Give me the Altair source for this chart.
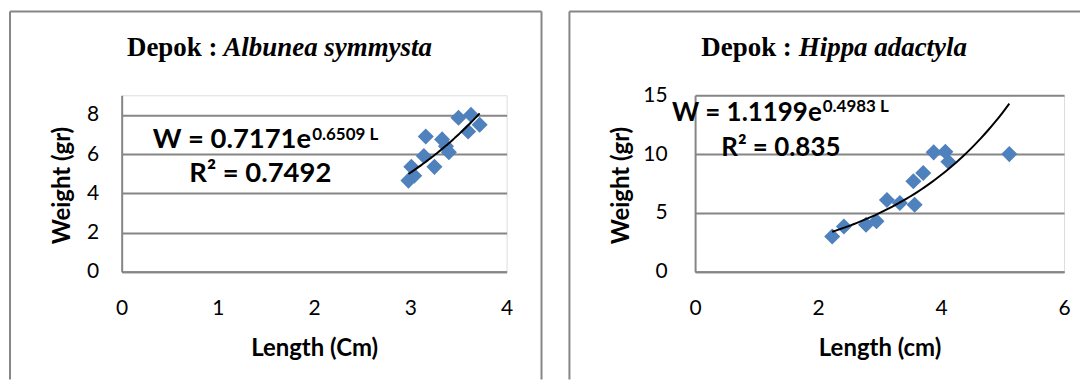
import altair as alt
import pandas as pd

# ---------------- data ----------------
left_length = [2.98, 3.01, 3.04, 3.14, 3.16, 3.25, 3.33, 3.37, 3.40, 3.50, 3.60, 3.63, 3.72]
left_weight = [4.65, 5.35, 4.90, 5.90, 6.90, 5.35, 6.75, 6.40, 6.10, 7.85, 7.15, 8.00, 7.50]

right_length = [2.23, 2.42, 2.78, 2.95, 3.12, 3.33, 3.57, 3.55, 3.71, 3.88, 4.07, 4.12, 5.11]
right_weight = [3.00, 3.85, 4.00, 4.30, 6.10, 5.85, 5.70, 7.70, 8.40, 10.15, 10.20, 9.35, 10.00]

# trendline coefficients (W = a * e^(b L)) as printed on the chart
left_coef = [0.7171, 0.6509]
right_coef = [1.1199, 0.4983]

left_title = ["Depok :", "Albunea symmysta"]
right_title = ["Depok :", "Hippa adactyla"]
left_eq = ["W = 0.7171e", "0.6509 L", "R\u00b2 = 0.7492"]
right_eq = ["W = 1.1199e", "0.4983 L", "R\u00b2 = 0.835"]
left_xtitle = "Length (Cm)"
right_xtitle = "Length (cm)"
y_title = "Weight (gr)"

left_xticks = [0, 1, 2, 3, 4]
left_yticks = [0, 2, 4, 6, 8]
right_xticks = [0, 2, 4, 6]
right_yticks = [0, 5, 10, 15]
left_xdomain = [0, 4]
left_ydomain = [0, 9]
right_xdomain = [0, 6]
right_ydomain = [0, 15]

BLUE = "#4f81bd"
GRAY = "#868686"
SANS = "Lato"
SERIF = "Liberation Serif"

one = pd.DataFrame({"k": [0]})


def txt(text, x, y, align, size, weight="bold", font=SANS, style="normal"):
    return alt.Chart(one).mark_text(
        text=text, align=align, baseline="alphabetic", font=font,
        fontSize=size, fontWeight=weight, fontStyle=style, color="black"
    ).encode(x=alt.value(x), y=alt.value(y))


def rule(x, x2, y, y2):
    return alt.Chart(one).mark_rule(color=GRAY, strokeWidth=2).encode(
        x=alt.value(x), x2=alt.value(x2), y=alt.value(y), y2=alt.value(y2)
    )


def panel(lengths, weights, coef, xdom, ydom, xticks, yticks, xtitle, title,
          eq, width, height, geo):
    df = pd.DataFrame({"L": lengths, "W": weights})
    xenc = alt.X(
        "L:Q",
        scale=alt.Scale(domain=xdom, nice=False, zero=False),
        axis=alt.Axis(
            values=xticks, title=xtitle, grid=False, ticks=False, tickSize=0,
            labelPadding=37, labelBaseline="middle", labelFlush=False,
            labelFont=SANS, labelFontSize=21, labelColor="black",
            titleFont=SANS, titleFontSize=24, titleFontWeight="bold",
            titleColor="black", titleX=width / 2, titleY=84,
            titleBaseline="alphabetic", titleAlign="center",
            domainColor=GRAY, domainWidth=2, format="d",
        ),
    )
    yenc = alt.Y(
        "W:Q",
        scale=alt.Scale(domain=ydom, nice=False, zero=False),
        axis=alt.Axis(
            values=yticks, title=y_title, grid=True, gridColor=GRAY, gridWidth=2,
            ticks=False, tickSize=0, labelPadding=geo["ylabpad"],
            labelFont=SANS, labelFontSize=21, labelColor="black",
            labelBaseline="middle", labelFlush=False,
            titleFont=SANS, titleFontSize=24, titleFontWeight="bold",
            titleColor="black", titleAngle=270, titleX=geo["ytitlex"], titleY=90,
            titleAlign="center", titleBaseline="middle",
            domainColor=GRAY, domainWidth=2, format="d",
        ),
    )
    pts = alt.Chart(df).mark_point(
        shape="diamond", filled=True, size=260, color=BLUE, opacity=1
    ).encode(x=xenc, y=yenc)

    lmin, lmax = min(lengths), max(lengths)
    trend = alt.Chart(alt.sequence(0, 1.001, 0.02, as_="t")).transform_calculate(
        L=f"{lmin} + datum.t * ({lmax} - {lmin})"
    ).transform_calculate(
        W=f"{coef[0]} * exp({coef[1]} * datum.L)"
    ).mark_line(color="black", strokeWidth=2).encode(
        x=alt.X("L:Q"), y=alt.Y("W:Q")
    )

    layers = [
        rule(geo["bl"], geo["bl"], -84, 285),
        rule(geo["bl"], geo["br"], -84, -84),
    ]
    if geo.get("rightside"):
        layers.append(rule(geo["br"], geo["br"], -84, 285))
    layers += [
        pts,
        trend,
        txt(title[0], geo["tx"], -39.5, "right", 27, font=SERIF),
        txt(title[1], geo["tx"] + geo["tgap"], -39.5, "left", 27, font=SERIF,
            style="italic"),
        txt(eq[0], geo["ex"], geo["ey"], "right", geo["es"]),
        txt(eq[1], geo["ex"] + 1, geo["ey"] - 8.5, "left", 17),
        txt(eq[2], geo["rx"], geo["ry"], "center", geo["es"]),
    ]
    return alt.layer(*layers).properties(width=width, height=height)


left = panel(
    left_length, left_weight, left_coef, left_xdomain, left_ydomain,
    left_xticks, left_yticks, left_xtitle, left_title, left_eq, 386, 177,
    dict(ylabpad=23, ytitlex=-59, bl=-112, br=421, rightside=True,
         tx=96, tgap=6, ex=190, ey=53, rx=139, ry=86.5, es=27.5),
)
right = panel(
    right_length, right_weight, right_coef, right_xdomain, right_ydomain,
    right_xticks, right_yticks, right_xtitle, right_title, right_eq, 370, 177,
    dict(ylabpad=28, ytitlex=-74, bl=-126, br=386, rightside=False,
         tx=97, tgap=7, ex=127, ey=25.5, rx=86, ry=61, es=26),
)

chart = alt.hconcat(left, right, spacing=189, bounds="flush").properties(
    padding={"left": 0, "top": 1, "right": 0, "bottom": 0}
).configure_view(strokeWidth=0).configure(background="white")

chart.save("out.html", embed_options={"renderer": "svg", "actions": False})
